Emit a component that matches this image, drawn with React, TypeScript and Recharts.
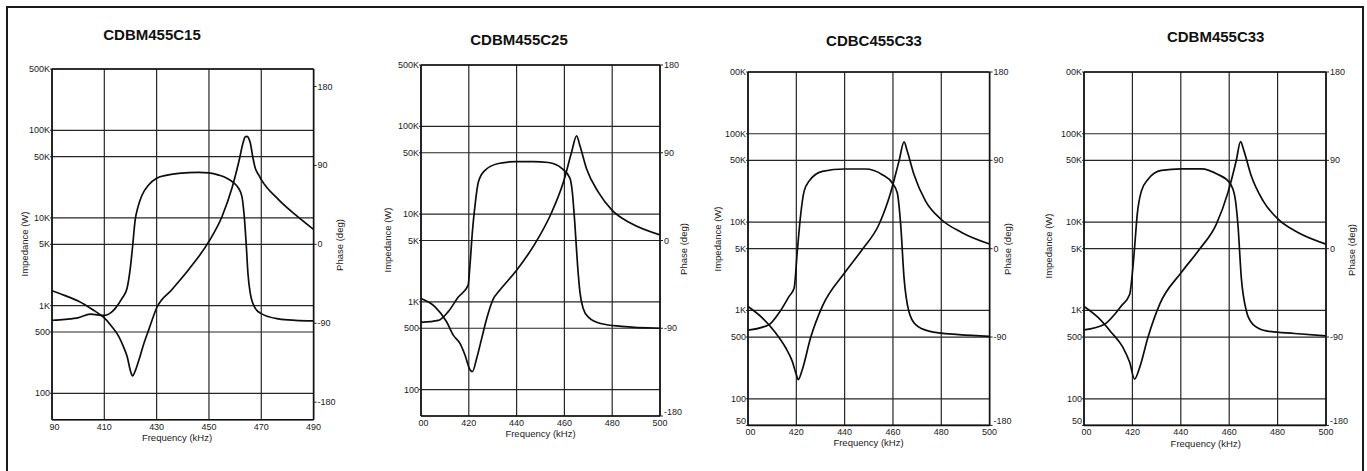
import React from 'react';
import { LineChart, Line, XAxis, YAxis, CartesianGrid, ReferenceLine } from 'recharts';

type Pt = [number, number];

const font = "'Liberation Sans', Arial, Helvetica, sans-serif";

// [frequency kHz, impedance ohm] / [frequency kHz, phase deg]

const c15Impedance: Pt[] = [
  [390, 1480], [395, 1300], [400.2, 1120], [405, 920], [410, 723], [413, 570], [415.5, 447],
  [417.5, 330], [418.7, 264], [420, 180], [420.8, 158], [421.8, 180], [423.1, 233], [425, 360],
  [427, 532], [430, 940], [435.8, 1520], [442.2, 2570], [450, 5400], [455, 10400],
  [458.8, 21900], [461.3, 42300], [463.2, 74800], [463.8, 84000], [464.5, 85000],
  [465.2, 81000], [465.8, 72000], [466.7, 50600], [467.7, 37000], [469, 31000], [470, 27400],
  [476.6, 16200], [483, 10900], [490, 7400],
];
const c15Phase: Pt[] = [
  [390, -86.6], [395, -85.5], [400.2, -83.5], [404.6, -79.7], [410, -81], [412, -79],
  [414.2, -73], [416.7, -62], [418.7, -50], [420, -25.5], [420.8, -2.7], [421.8, 27.8],
  [422.9, 43], [424.4, 56], [427, 68], [430, 75.5], [434, 79], [438.4, 81], [446, 82],
  [450, 81.5], [453.8, 79], [456.5, 76], [459.5, 70], [461.3, 64], [462.6, 54.5],
  [463.5, 31.6], [464.3, -2.7], [464.9, -33], [465.8, -56], [467.7, -73], [470, -79],
  [476.6, -85], [483, -86.7], [490, -87.3],
];

const c25Impedance: Pt[] = [
  [400, 1090], [405.9, 877], [410.7, 593], [413.5, 418], [416.3, 336], [418.4, 248],
  [420.5, 168], [421.5, 160], [423.3, 227], [425.4, 383], [427.5, 647], [430.3, 1090],
  [432.4, 1300], [440, 2290], [447.7, 4600], [454.7, 10500], [459.6, 23200], [463, 50600],
  [465.1, 78000], [466.5, 60000], [469.3, 32700], [474.2, 17800], [480, 11000],
  [488, 7800], [500, 5800],
];
const c25Phase: Pt[] = [
  [400, -84], [407.3, -82], [411.4, -73], [415.6, -58], [419.7, -46], [420.5, -25],
  [421.5, 9], [422.6, 36], [424, 60], [426.8, 72], [432.4, 79], [440, 81], [447, 81],
  [453.3, 80], [458.9, 74], [462.3, 64], [463.3, 50], [464.4, 16], [465.5, -25],
  [466.5, -53], [467.9, -70], [470, -78.5], [475.6, -85.4], [483.9, -88], [500, -90],
];

const c33cImpedance: Pt[] = [
  [400, 1110], [405.9, 826], [411.4, 559], [415.6, 378], [418.3, 267], [420, 188],
  [420.8, 165], [422.5, 215], [425.9, 490], [430.8, 1120], [440, 2670], [447.3, 4900],
  [454.2, 9400], [459, 21400], [462.5, 49000], [464.6, 81000], [465.9, 63700],
  [468.7, 34500], [473.5, 17300], [480, 10700], [488.6, 7600], [500, 5650],
];
const c33cPhase: Pt[] = [
  [400, -83], [408.7, -77.4], [412.8, -65.6], [417, -48.6], [419.1, -40], [420.4, -2.7],
  [421.8, 34.6], [423.2, 58.4], [425.2, 68.6], [430.8, 78.8], [440, 81.2], [448.7, 81.2],
  [455.6, 75.4], [459.7, 67], [461.8, 56.7], [463.2, 24.5], [464.6, -30], [466.6, -64],
  [469.4, -77.4], [474.9, -84], [487.3, -87.6], [500, -89.3],
];

const c33mImpedance: Pt[] = [
  [400, 1110], [405.8, 833], [411.3, 564], [416.1, 381], [418.9, 258], [420.9, 167],
  [423, 226], [426.4, 494], [431.3, 1180], [440.2, 2690], [447.8, 4950], [454.7, 9500],
  [459.5, 21700], [462.9, 49400], [464.7, 81500], [466.1, 64000], [469.1, 33400],
  [474, 17400], [480.2, 10800], [488.4, 7630], [500, 5640],
];
const c33mPhase: Pt[] = [
  [400, -82.7], [408.5, -77], [412.7, -66.8], [415.4, -58.3], [418.9, -46.4],
  [419.8, -29.5], [420.9, 1], [422, 35], [423.7, 58.6], [426.4, 70.5], [432, 79.7],
  [440.2, 81.4], [448.5, 81.4], [455.4, 75.6], [460.2, 67.1], [462.3, 53.6], [463.6, 24.7],
  [465, -29.5], [467.1, -63.4], [469.8, -77], [475.3, -83.7], [487.1, -86.4], [500, -88.8],
];

const xTicks390 = [390, 410, 430, 450, 470, 490];
const xLabels390 = ['90', '410', '430', '450', '470', '490'];
const xTicks400 = [400, 420, 440, 460, 480, 500];
const xLabels400 = ['00', '420', '440', '460', '480', '500'];

const zTicksA = [100, 500, 1000, 5000, 10000, 50000, 100000, 500000];
const zLabelsA = ['100', '500', '1K', '5K', '10K', '50K', '100K', '500K'];
const zTicksB = [50, 100, 500, 1000, 5000, 10000, 50000, 100000, 500000];
const zLabelsB = ['50', '100', '500', '1K', '5K', '10K', '50K', '100K', '00K'];

const phaseTicks = [-180, -90, 0, 90, 180];
const phaseLabels = ['-180', '-90', '0', '90', '180'];

const panels = [
  {
    title: 'CDBM455C15', z: c15Impedance, p: c15Phase,
    xTicks: xTicks390, xLabels: xLabels390, zTicks: zTicksA, zLabels: zLabelsA, pDomain: [-200, 200],
    left: 51.7, top: 69.3, width: 261.6, height: 350.7,
    titleX: 152, titleY: 34, zLabX: 25, zLabY: 244, pLabX: 340, pLabY: 245, fLabX: 177, fLabY: 438.3,
  },
  {
    title: 'CDBM455C25', z: c25Impedance, p: c25Phase,
    xTicks: xTicks400, xLabels: xLabels400, zTicks: zTicksA, zLabels: zLabelsA, pDomain: [-180, 180],
    left: 421, top: 65, width: 239, height: 351,
    titleX: 519, titleY: 39, zLabX: 388, zLabY: 240, pLabX: 684, pLabY: 249, fLabX: 540.5, fLabY: 434,
  },
  {
    title: 'CDBC455C33', z: c33cImpedance, p: c33cPhase,
    xTicks: xTicks400, xLabels: xLabels400, zTicks: zTicksB, zLabels: zLabelsB, pDomain: [-180, 180],
    left: 747.7, top: 72.3, width: 241.6, height: 353.4,
    titleX: 874, titleY: 40, zLabX: 718, zLabY: 239, pLabX: 1008, pLabY: 249, fLabX: 868.5, fLabY: 443.3,
  },
  {
    title: 'CDBM455C33', z: c33mImpedance, p: c33mPhase,
    xTicks: xTicks400, xLabels: xLabels400, zTicks: zTicksB, zLabels: zLabelsB, pDomain: [-180, 180],
    left: 1084, top: 72.3, width: 242, height: 353.4,
    titleX: 1215.7, titleY: 36, zLabX: 1049, zLabY: 246, pLabX: 1352, pLabY: 250, fLabX: 1205.7, fLabY: 444,
  },
];

const tickText = { fontSize: 9, fill: '#1a1a1a', fontFamily: font };

function Panel({ cfg }: { cfg: any }) {
  const ml = 45, mr = 45, mt = 10, mb = 30;
  const zData = cfg.z.map(([f, v]: Pt) => ({ f, z: v }));
  const pData = cfg.p.map(([f, v]: Pt) => ({ f, p: v }));
  const zMin = 50;
  const pMin = cfg.pDomain[0];

  const xTick = (props: any) => {
    const { x, y, payload } = props;
    const i = cfg.xTicks.indexOf(payload.value);
    return (
      <text x={x + (i === 0 ? 2.5 : 0)} y={y} textAnchor="middle" dominantBaseline="central" {...tickText}>
        {cfg.xLabels[i]}
      </text>
    );
  };
  const zTick = (props: any) => {
    const { x, y, payload } = props;
    const i = cfg.zTicks.indexOf(payload.value);
    return (
      <text x={x} y={y + (payload.value === zMin ? -4 : 0)} textAnchor="end" dominantBaseline="central" {...tickText}>
        {cfg.zLabels[i]}
      </text>
    );
  };
  const pTick = (props: any) => {
    const { x, y, payload } = props;
    const i = phaseTicks.indexOf(payload.value);
    return (
      <text x={x} y={y + (payload.value === pMin ? -4 : 0)} textAnchor="start" dominantBaseline="central" {...tickText}>
        {phaseLabels[i]}
      </text>
    );
  };

  const label: React.CSSProperties = {
    position: 'absolute', fontFamily: font, fontSize: 9.5, color: '#1a1a1a', whiteSpace: 'nowrap',
    lineHeight: 1,
  };

  return (
    <>
      <div style={{ position: 'absolute', left: cfg.left - ml, top: cfg.top - mt }}>
        <LineChart
          width={cfg.width + ml + mr}
          height={cfg.height + mt + mb}
          margin={{ top: mt, right: 5, bottom: 0, left: 5 }}
        >
          <CartesianGrid yAxisId="z" stroke="#262626" strokeWidth={1.2} />
          <XAxis
            dataKey="f" type="number" domain={[cfg.xTicks[0], cfg.xTicks[cfg.xTicks.length - 1]]}
            ticks={cfg.xTicks} allowDataOverflow height={30} tickLine={false} tickSize={0} tickMargin={7}
            axisLine={{ stroke: '#111', strokeWidth: 1.6 }} tick={xTick} interval={0}
          />
          <YAxis
            yAxisId="z" scale="log" domain={[50, 500000]} allowDataOverflow ticks={cfg.zTicks}
            width={40} tickSize={2} tickMargin={0} interval={0}
            axisLine={{ stroke: '#111', strokeWidth: 1.6 }} tickLine={{ stroke: '#222' }} tick={zTick}
          />
          <YAxis
            yAxisId="p" orientation="right" domain={cfg.pDomain} allowDataOverflow ticks={phaseTicks}
            width={40} tickSize={3} tickMargin={1} interval={0}
            axisLine={{ stroke: '#111', strokeWidth: 1.6 }} tickLine={{ stroke: '#222' }} tick={pTick}
          />
          <ReferenceLine yAxisId="z" y={500000} stroke="#111" strokeWidth={1.6} />
          <Line
            data={zData} dataKey="z" yAxisId="z" type="monotone" stroke="#0d0d0d" strokeWidth={1.7}
            dot={false} isAnimationActive={false}
          />
          <Line
            data={pData} dataKey="p" yAxisId="p" type="monotone" stroke="#0d0d0d" strokeWidth={1.7}
            dot={false} isAnimationActive={false}
          />
        </LineChart>
      </div>
      <div
        style={{
          position: 'absolute', left: cfg.titleX, top: cfg.titleY, transform: 'translate(-50%, -50%)',
          fontFamily: font, fontWeight: 'bold', fontSize: 15, color: '#111', whiteSpace: 'nowrap', lineHeight: 1,
        }}
      >
        {cfg.title}
      </div>
      <div style={{ ...label, left: cfg.zLabX, top: cfg.zLabY, transform: 'translate(-50%, -50%) rotate(-90deg)' }}>
        Impedance (W)
      </div>
      <div style={{ ...label, left: cfg.pLabX, top: cfg.pLabY, transform: 'translate(-50%, -50%) rotate(-90deg)' }}>
        Phase (deg)
      </div>
      <div style={{ ...label, left: cfg.fLabX, top: cfg.fLabY, transform: 'translate(-50%, -50%)' }}>
        Frequency (kHz)
      </div>
    </>
  );
}

export default function App() {
  return (
    <div
      style={{
        position: 'absolute', left: 0, top: 0, width: 1367, height: 471, overflow: 'hidden', background: '#fff',
      }}
    >
      <div
        style={{
          position: 'absolute', left: 6, top: 6, width: 1358, height: 480, boxSizing: 'border-box',
          border: '2px solid #1a1a1a',
        }}
      />
      {panels.map((cfg) => (
        <Panel key={cfg.title} cfg={cfg} />
      ))}
    </div>
  );
}
